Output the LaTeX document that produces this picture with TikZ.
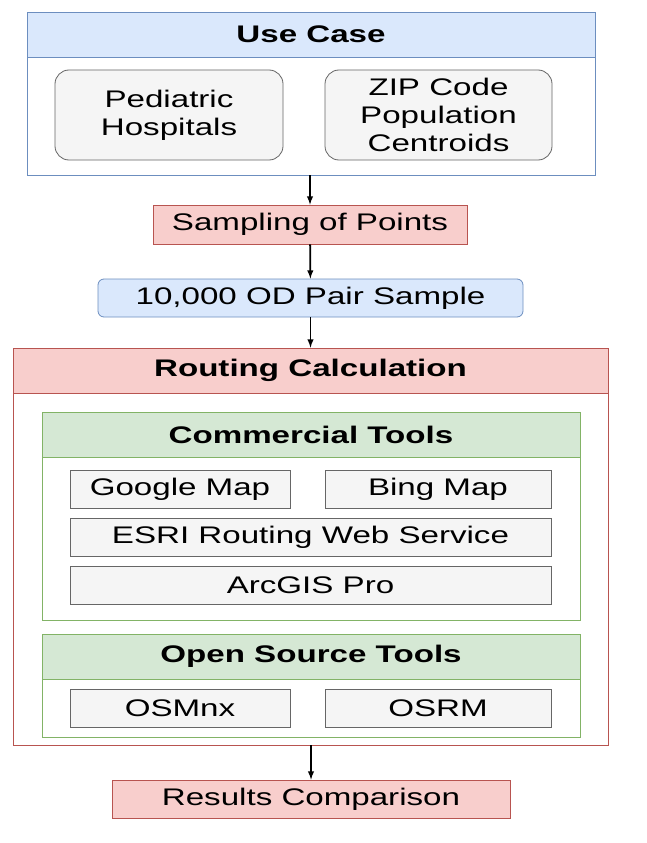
\documentclass[tikz,border=0pt]{standalone}
\usepackage{fontspec}
\setmainfont[FakeStretch=1.38]{Liberation Sans}
\usetikzlibrary{positioning, arrows}
\definecolor{bluefill}{HTML}{DAE8FC}
\definecolor{blueline}{HTML}{6C8EBF}
\definecolor{redfill}{HTML}{F8CECC}
\definecolor{redline}{HTML}{B85450}
\definecolor{greenfill}{HTML}{D5E8D4}
\definecolor{greenline}{HTML}{82B366}
\definecolor{grayfill}{HTML}{F5F5F5}
\definecolor{grayline}{HTML}{666666}
\begin{document}
\begin{tikzpicture}[
            x=1pt, y=-1pt,
            >=latex,
            base/.style = {rectangle, thick, inner sep=0pt, text centered, font=\fontsize{24}{28}\selectfont},
            frame/.style = {base, draw, fill=white},
            head/.style = {base, draw, font=\fontsize{24}{28}\selectfont\bfseries},
            tool/.style = {base, draw=grayline, fill=grayfill},
            stage/.style = {base, draw=redline, fill=redfill},
            sample/.style = {base, draw=blueline, fill=bluefill, rounded corners=6pt},
            source/.style = {base, draw=grayline, fill=grayfill, rounded corners=14pt, align=center},
            link/.style = {->, line width=1.8pt}
        ]
            \useasboundingbox (0,0) rectangle (646,843);

            % --- Use case ---
            \node [frame, draw=blueline, minimum width=568, minimum height=163] (usecase) at (311,93.5) {};
            \node [head, draw=blueline, fill=bluefill, minimum width=568, minimum height=45] (usehead) at (311,34.5) {Use Case};
            \node [source, minimum width=228, minimum height=90] (hosp) at (169,115) {Pediatric\\Hospitals};
            \node [source, minimum width=227, minimum height=90] (zip) at (438.5,115) {ZIP Code\\Population\\Centroids};

            % --- Sampling ---
            \node [stage, minimum width=314, minimum height=39] (sampling) at (310,224.5) {Sampling of Points};
            \node [sample, minimum width=425, minimum height=38] (odpairs) at (310.5,298) {10,000 OD Pair Sample};

            % --- Routing ---
            \node [frame, draw=redline, minimum width=595, minimum height=397] (routing) at (310.5,546.5) {};
            \node [head, draw=redline, fill=redfill, minimum width=595, minimum height=45] (routhead) at (310.5,370.5) {Routing Calculation};

            % Commercial tools
            \node [frame, draw=greenline, minimum width=538, minimum height=208] (commercial) at (311,516) {};
            \node [head, draw=greenline, fill=greenfill, minimum width=538, minimum height=45] (commhead) at (311,434.5) {Commercial Tools};
            \node [tool, minimum width=220, minimum height=38] (google) at (180,489) {Google Map};
            \node [tool, minimum width=226, minimum height=38] (bing) at (438,489) {Bing Map};
            \node [tool, minimum width=481, minimum height=38] (esri) at (310.5,537) {ESRI Routing Web Service};
            \node [tool, minimum width=481, minimum height=38] (arcgis) at (310.5,585) {ArcGIS Pro};

            % Open source tools
            \node [frame, draw=greenline, minimum width=538, minimum height=103] (opensrc) at (311,685.5) {};
            \node [head, draw=greenline, fill=greenfill, minimum width=538, minimum height=45] (openhead) at (311,656.5) {Open Source Tools};
            \node [tool, minimum width=220, minimum height=38] (osmnx) at (180,708) {OSMnx};
            \node [tool, minimum width=226, minimum height=38] (osrm) at (438,708) {OSRM};

            % --- Results ---
            \node [stage, minimum width=398, minimum height=38] (results) at (311,799) {Results Comparison};

            % --- Connections ---
            \draw [link] (usecase.south -| sampling.north) -- (sampling.north);
            \draw [link] (sampling) -- (odpairs);
            \draw [link] (odpairs.south) -- (odpairs.south |- routhead.north);
            \draw [link] (routing.south -| results.north) -- (results.north);

        \end{tikzpicture}
\end{document}
